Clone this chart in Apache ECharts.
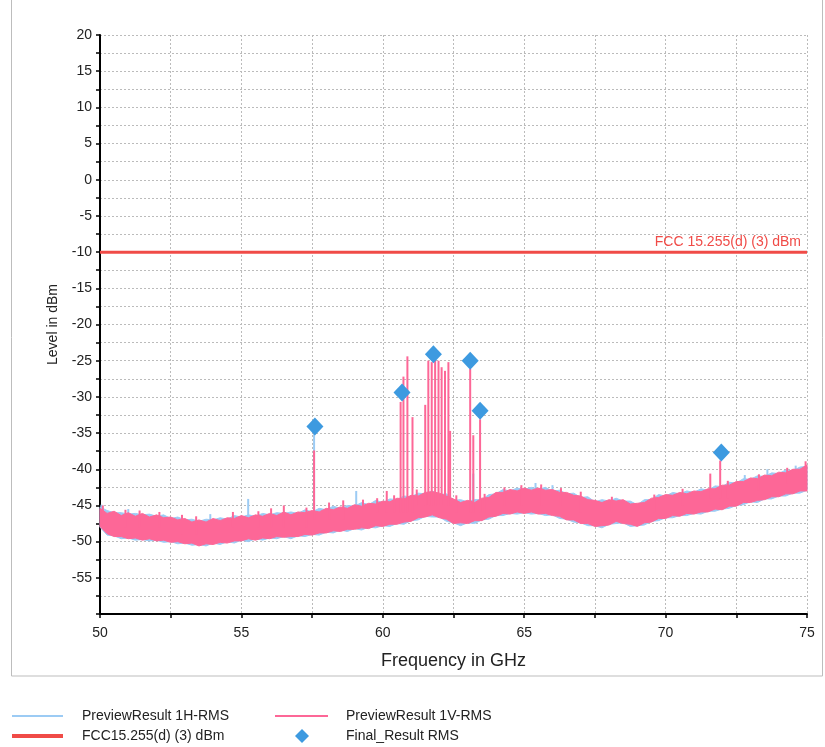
<!DOCTYPE html>
<html>
  <head>
    <meta charset="utf-8" />
    <title>Preview Result</title>
    <script src="https://cdn.jsdelivr.net/npm/echarts@6/dist/echarts.min.js"></script>
    <style>
      html, body { margin: 0; padding: 0; background: #fff; }
      #main { width: 825px; height: 747px; }
    </style>
  </head>
  <body>
    <div id="main"></div>
    <script type="text/javascript">
// frequency grid in GHz
let freq = [50, 50.25, 50.5, 50.75, 51, 51.25, 51.5, 51.75, 52, 52.25, 52.5, 52.75, 53, 53.25, 53.5, 53.75,
  54, 54.25, 54.5, 54.75, 55, 55.25, 55.5, 55.75, 56, 56.25, 56.5, 56.75, 57, 57.25, 57.5, 57.75,
  58, 58.25, 58.5, 58.75, 59, 59.25, 59.5, 59.75, 60, 60.25, 60.5, 60.75, 61, 61.25, 61.5, 61.75,
  62, 62.25, 62.5, 62.75, 63, 63.25, 63.5, 63.75, 64, 64.25, 64.5, 64.75, 65, 65.25, 65.5, 65.75,
  66, 66.25, 66.5, 66.75, 67, 67.25, 67.5, 67.75, 68, 68.25, 68.5, 68.75, 69, 69.25, 69.5, 69.75,
  70, 70.25, 70.5, 70.75, 71, 71.25, 71.5, 71.75, 72, 72.25, 72.5, 72.75, 73, 73.25, 73.5, 73.75,
  74, 74.25, 74.5, 74.75, 75];

// PreviewResult 1V-RMS noise band (upper / lower edge, dBm)
let vHigh = [-45.4, -46.1, -45.8, -46.4, -46.0, -46.5, -46.1, -46.6, -46.3, -46.7, -46.6, -47.0, -46.8, -47.3, -47.0, -47.3,
  -46.8, -47.1, -46.7, -46.8, -46.4, -46.7, -46.3, -46.5, -46.1, -46.4, -45.9, -46.3, -45.9, -46.0, -45.7, -45.9,
  -45.4, -45.6, -45.2, -45.4, -44.9, -45.1, -44.7, -44.8, -44.4, -44.5, -44.0, -44.1, -43.6, -43.7, -43.2, -43.1,
  -43.3, -43.7, -44.1, -44.6, -44.3, -44.6, -44.0, -43.9, -43.2, -43.2, -42.8, -43.0, -42.6, -42.9, -42.6, -42.9,
  -42.8, -43.2, -43.2, -43.6, -43.7, -44.2, -44.3, -44.6, -44.2, -44.4, -44.2, -44.8, -44.7, -44.6, -44.0, -43.9,
  -43.5, -43.6, -43.2, -43.4, -43.0, -43.1, -42.7, -42.7, -42.2, -42.2, -41.7, -41.7, -41.2, -41.3, -40.8, -40.9,
  -40.4, -40.5, -40.0, -40.0, -39.4];
let vLow = [-47.9, -48.9, -49.3, -49.3, -49.6, -49.5, -49.8, -49.6, -49.9, -49.8, -50.1, -50.0, -50.3, -50.2, -50.6, -50.3,
  -50.4, -50.1, -50.2, -49.9, -49.9, -49.6, -49.8, -49.5, -49.6, -49.3, -49.4, -49.3, -49.3, -49.0, -49.1, -48.8,
  -48.8, -48.5, -48.6, -48.3, -48.3, -48.1, -48.2, -47.8, -47.9, -47.6, -47.6, -47.3, -47.2, -46.7, -46.6, -46.3,
  -46.7, -46.9, -47.5, -47.4, -47.5, -47.1, -47.1, -46.6, -46.5, -46.1, -46.2, -45.9, -46.1, -45.9, -46.2, -46.1,
  -46.4, -46.5, -47.0, -47.0, -47.5, -47.5, -47.9, -47.8, -47.7, -47.2, -47.5, -47.6, -47.9, -47.4, -47.3, -46.8,
  -46.8, -46.4, -46.5, -46.1, -46.2, -45.9, -45.9, -45.5, -45.6, -45.1, -45.1, -44.6, -44.6, -44.3, -44.2, -43.8,
  -43.8, -43.4, -43.4, -43.0, -43.0];

// PreviewResult 1H-RMS noise band (upper / lower edge, dBm)
let hHigh = [-45.2, -45.7, -46.0, -46.0, -46.2, -46.1, -46.3, -46.2, -46.5, -46.3, -46.8, -46.6, -47.0, -46.9, -47.2, -46.9,
  -47.0, -46.7, -46.9, -46.4, -46.6, -46.3, -46.5, -46.1, -46.3, -46.0, -46.1, -45.9, -46.1, -45.6, -45.9, -45.4,
  -45.6, -45.1, -45.4, -45.0, -45.1, -44.6, -44.9, -44.3, -44.6, -44.1, -44.2, -43.7, -43.8, -43.3, -43.4, -43.0,
  -43.5, -43.4, -44.3, -44.2, -44.5, -44.2, -44.2, -43.5, -43.4, -42.8, -43.0, -42.6, -42.8, -42.5, -42.8, -42.5,
  -43.0, -42.9, -43.4, -43.3, -43.9, -43.8, -44.5, -44.2, -44.4, -44.0, -44.4, -44.4, -44.9, -44.2, -44.2, -43.5,
  -43.7, -43.2, -43.4, -43.0, -43.2, -42.7, -42.9, -42.3, -42.4, -41.8, -41.9, -41.3, -41.4, -40.9, -41.0, -40.5,
  -40.6, -40.1, -40.2, -39.7, -39.6];
let hLow = [-48.0, -49.1, -49.2, -49.6, -49.5, -49.8, -49.7, -49.9, -49.8, -50.1, -50.0, -50.3, -50.2, -50.5, -50.4, -50.6,
  -50.2, -50.4, -50.0, -50.2, -49.8, -50.0, -49.6, -49.8, -49.5, -49.6, -49.3, -49.6, -49.2, -49.3, -49.0, -49.1,
  -48.7, -48.8, -48.4, -48.6, -48.2, -48.4, -48.0, -48.1, -47.8, -47.9, -47.5, -47.6, -47.1, -47.0, -46.5, -46.6,
  -46.6, -47.2, -47.4, -47.8, -47.4, -47.5, -47.0, -46.9, -46.4, -46.4, -46.1, -46.2, -46.0, -46.2, -46.1, -46.4,
  -46.3, -46.8, -46.9, -47.3, -47.4, -47.8, -47.8, -48.1, -47.6, -47.5, -47.4, -47.9, -47.8, -47.7, -47.2, -47.1,
  -46.7, -46.7, -46.4, -46.4, -46.1, -46.2, -45.8, -45.8, -45.5, -45.4, -45.0, -44.9, -44.5, -44.6, -44.1, -44.1,
  -43.7, -43.7, -43.3, -43.3, -42.9];

// narrow peaks: [frequency, peak level, foot level]
let vSpikes = [
  [57.57, -37.4, -47], [60.63, -30.7, -46], [60.73, -27.2, -46], [60.87, -24.4, -46], [61.05, -32.8, -46],
  [61.5, -31.1, -45], [61.61, -25.0, -45], [61.73, -25.2, -45], [61.85, -24.6, -45], [61.97, -25.0, -45],
  [62.08, -25.9, -45], [62.2, -26.4, -45], [62.32, -25.2, -45], [62.38, -34.7, -45], [63.09, -26.1, -46],
  [63.2, -35.3, -46], [63.44, -33.1, -46], [71.93, -38.8, -44],
  [50.1, -45.0, -47], [50.9, -45.6, -48], [51.4, -45.7, -48], [52.1, -45.9, -48], [52.9, -46.3, -49],
  [53.4, -46.5, -49], [54.7, -45.9, -48], [55.6, -45.8, -48], [56.05, -45.4, -48], [56.5, -45.0, -48],
  [57.3, -45.3, -48], [58.1, -44.6, -47], [58.6, -44.3, -47], [59.3, -44.2, -47], [59.8, -44.0, -46],
  [60.14, -43.0, -46], [60.4, -43.6, -46], [61.2, -42.8, -45], [62.6, -43.6, -46], [63.6, -43.4, -46],
  [64.3, -42.5, -45], [64.9, -42.2, -45], [65.6, -42.1, -45], [66.3, -42.6, -45], [67.0, -43.1, -46],
  [68.1, -43.8, -46], [69.6, -43.5, -46], [70.6, -42.7, -45], [71.58, -40.6, -44], [72.2, -41.6, -44],
  [73.3, -40.7, -43], [74.3, -39.8, -42], [74.95, -38.9, -42]
];
let hSpikes = [
  [55.24, -44.1, -47], [57.57, -35.1, -47], [59.06, -43.0, -46], [63.2, -40.6, -45], [65.4, -41.9, -44],
  [66.0, -42.2, -45], [72.8, -40.8, -43], [73.6, -40.0, -42], [74.6, -39.5, -42], [53.9, -46.2, -49],
  [51.0, -45.5, -48], [50.05, -44.9, -47]
];

// FCC limit and final measurement points
let limitFreq = [50, 75];
let limitLevel = [-10, -10];
let finalFreq = [57.6, 60.68, 61.79, 63.09, 63.44, 71.97];
let finalLevel = [-34.1, -29.4, -24.1, -25.0, -31.9, -37.7];

let blue = '#9ccbf4';
let pink = '#fd6797';
let red = '#f04b47';
let diamondBlue = '#3d9ae0';

function bandRender(hi, lo, color) {
  return function (params, api) {
    if (params.dataIndex !== 0) return null;
    let pts = [];
    for (let i = 0; i < freq.length; i++) pts.push(api.coord([freq[i], hi[i]]));
    for (let j = freq.length - 1; j >= 0; j--) pts.push(api.coord([freq[j], lo[j]]));
    return {
      type: 'polygon',
      shape: { points: pts },
      style: { fill: color, stroke: color, lineWidth: 1 }
    };
  };
}

function spikeRender(color) {
  return function (params, api) {
    let top = api.coord([api.value(0), api.value(1)]);
    let foot = api.coord([api.value(0), api.value(2)]);
    return {
      type: 'line',
      shape: { x1: top[0], y1: top[1], x2: foot[0], y2: foot[1] },
      style: { stroke: color, lineWidth: 2 }
    };
  };
}

let myChart = echarts.init(document.getElementById('main'));
let font = 'Liberation Sans, Arial, sans-serif';
let legendText = { fontSize: 14, color: '#222', fontFamily: font };

let option = {
  animation: false,
  textStyle: { fontFamily: font },
  grid: { left: 100, right: 18, top: 35, bottom: 133 },
  graphic: [
    {
      type: 'rect',
      shape: { x: 11.5, y: -5, width: 811, height: 681 },
      style: { fill: 'none', stroke: '#bdbdbd', lineWidth: 1 },
      silent: true
    }
  ],
  legend: [
    { left: 12, top: 709, padding: 0, itemWidth: 51, itemHeight: 2,
      textStyle: Object.assign({ padding: [0, 0, 0, 14] }, legendText),
      data: [{ name: 'PreviewResult 1H-RMS', icon: 'rect' }] },
    { left: 275, top: 709, padding: 0, itemWidth: 53, itemHeight: 2,
      textStyle: Object.assign({ padding: [0, 0, 0, 13] }, legendText),
      data: [{ name: 'PreviewResult 1V-RMS', icon: 'rect' }] },
    { left: 12, top: 729, padding: 0, itemWidth: 51, itemHeight: 4,
      textStyle: Object.assign({ padding: [0, 0, 0, 14] }, legendText),
      data: [{ name: 'FCC15.255(d) (3) dBm', icon: 'rect' }] },
    { left: 295, top: 729, padding: 0, itemWidth: 14, itemHeight: 14,
      textStyle: Object.assign({ padding: [0, 0, 0, 32] }, legendText),
      data: [{ name: 'Final_Result RMS', icon: 'diamond' }] }
  ],
  xAxis: {
    type: 'value',
    min: 50,
    max: 75,
    interval: 2.5,
    name: 'Frequency in GHz',
    nameLocation: 'middle',
    nameGap: 38,
    nameTextStyle: { fontSize: 18, color: '#222' },
    axisLine: { onZero: false, lineStyle: { color: '#000', width: 2 } },
    axisTick: { length: 4, lineStyle: { color: '#000', width: 1.5 } },
    axisLabel: {
      fontSize: 14,
      color: '#222',
      margin: 12,
      formatter: function (v) { return v % 5 === 0 ? String(v) : ''; }
    },
    splitLine: { show: true, lineStyle: { color: '#bbbbbb', type: [2, 2] } }
  },
  yAxis: {
    type: 'value',
    min: -60,
    max: 20,
    interval: 2.5,
    name: 'Level in dBm',
    nameLocation: 'middle',
    nameGap: 40,
    nameTextStyle: { fontSize: 14, color: '#222' },
    axisLine: { show: true, onZero: false, lineStyle: { color: '#000', width: 2 } },
    axisTick: { show: true, length: 4, lineStyle: { color: '#000', width: 1.5 } },
    axisLabel: {
      fontSize: 14,
      color: '#222',
      margin: 8,
      formatter: function (v) { return (v % 5 === 0 && v > -60) ? String(v) : ''; }
    },
    splitLine: { show: true, lineStyle: { color: '#bbbbbb', type: [2, 2] } }
  },
  series: [
    {
      name: 'PreviewResult 1H-RMS',
      type: 'custom',
      itemStyle: { color: blue },
      renderItem: bandRender(hHigh, hLow, blue),
      encode: { x: 0, y: [1, 2] },
      data: freq.map(function (f, i) { return [f, hHigh[i], hLow[i]]; }),
      silent: true,
      z: 2
    },
    {
      name: 'PreviewResult 1H-RMS',
      type: 'custom',
      itemStyle: { color: blue },
      renderItem: spikeRender(blue),
      encode: { x: 0, y: [1, 2] },
      data: hSpikes,
      silent: true,
      z: 2
    },
    {
      name: 'PreviewResult 1V-RMS',
      type: 'custom',
      itemStyle: { color: pink },
      renderItem: bandRender(vHigh, vLow, pink),
      encode: { x: 0, y: [1, 2] },
      data: freq.map(function (f, i) { return [f, vHigh[i], vLow[i]]; }),
      silent: true,
      z: 3
    },
    {
      name: 'PreviewResult 1V-RMS',
      type: 'custom',
      itemStyle: { color: pink },
      renderItem: spikeRender(pink),
      encode: { x: 0, y: [1, 2] },
      data: vSpikes,
      silent: true,
      z: 3
    },
    {
      name: 'FCC15.255(d) (3) dBm',
      type: 'line',
      showSymbol: false,
      itemStyle: { color: red },
      lineStyle: { color: red, width: 3 },
      data: limitFreq.map(function (f, i) { return [f, limitLevel[i]]; }),
      markLine: {
        silent: true,
        symbol: 'none',
        lineStyle: { color: 'rgba(0,0,0,0)', width: 1 },
        label: {
          show: true,
          position: 'insideEndTop',
          formatter: 'FCC 15.255(d) (3) dBm',
          color: red,
          fontSize: 14,
          distance: [6, 3]
        },
        data: [{ yAxis: -10 }]
      },
      z: 4
    },
    {
      name: 'Final_Result RMS',
      type: 'scatter',
      symbol: 'diamond',
      symbolSize: [17, 18],
      itemStyle: { color: diamondBlue, opacity: 1 },
      data: finalFreq.map(function (f, i) { return [f, finalLevel[i]]; }),
      z: 5
    }
  ]
};

myChart.setOption(option);
    </script>
  </body>
</html>
